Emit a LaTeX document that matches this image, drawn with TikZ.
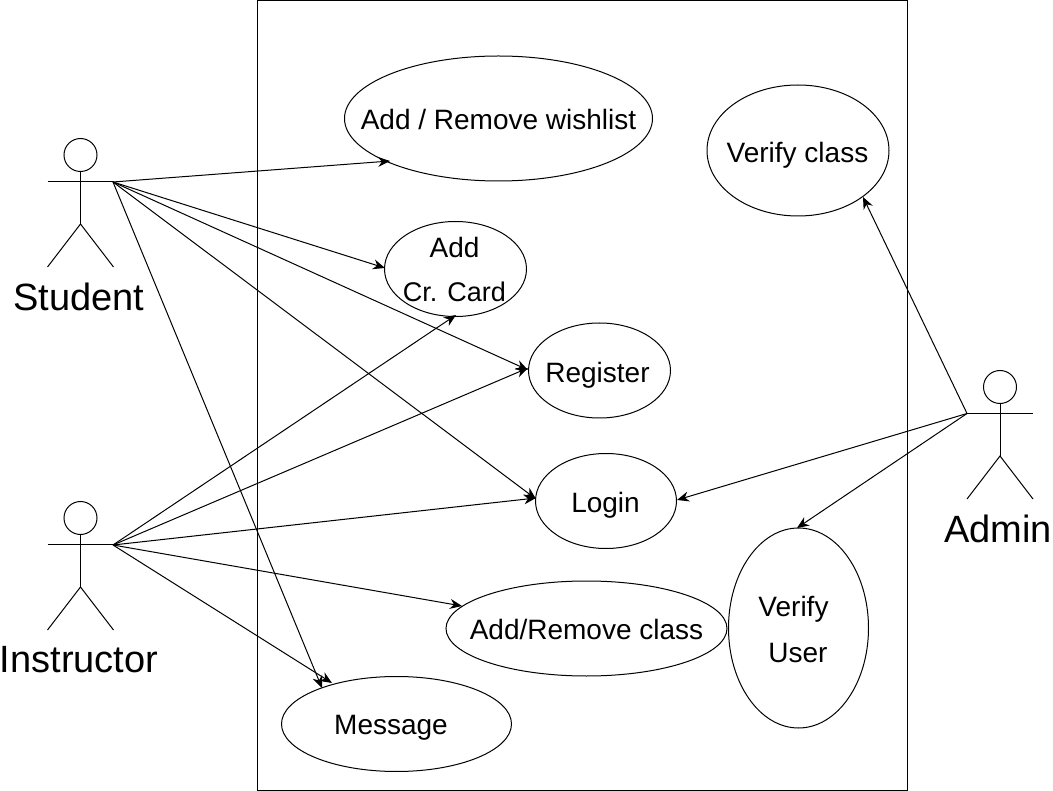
\documentclass[tikz,border=0pt]{standalone}
\usepackage{fontspec}
\setmainfont{Liberation Sans}
\usetikzlibrary{shapes.geometric,arrows.meta}
\tikzset{
 uc/.style={draw=black,ellipse,line width=1pt,inner sep=0pt,align=center},
 lab/.style={font=\fontsize{28}{32}\selectfont,inner sep=0pt},
 actorlab/.style={font=\fontsize{38}{42}\selectfont,inner sep=0pt},
 conn/.style={draw=black,line width=1pt,-{Stealth[length=12pt,width=10pt]}},
 fig/.style={draw=black,line width=1pt}
}
\newcommand{\actor}[2]{% x, y top
 \draw[fig] (#1,#2+17) circle[radius=16.5];
 \draw[fig] (#1,#2+33.5) -- (#1,#2+86);
 \draw[fig] (#1-33,#2+44) -- (#1+33,#2+44);
 \draw[fig] (#1-33,#2+129) -- (#1,#2+86) -- (#1+33,#2+129);
}
\begin{document}
\begin{tikzpicture}[x=1pt,y=-1pt]
\useasboundingbox (0,0) rectangle (1053,791);
\draw[fig] (257.5,0.5) rectangle (907.5,790.5);
\actor{80.5}{138}
\actor{80.5}{501}
\actor{1000}{370}
\coordinate (St) at (113,182);
\coordinate (In) at (113,545);
\coordinate (Ad) at (967,413.5);
\node[actorlab] (tS) at (79,297) {Student};
\node[actorlab] (tI) at (79,660) {Instructor};
\node[actorlab] (tA) at (998,529) {Admin};
\node[uc,minimum width=308pt,minimum height=125pt] (w) at (498.5,118.5) {};
\node[lab] (tw) at (498.5,119) {Add / Remove wishlist};
\node[uc,minimum width=142pt,minimum height=95pt] (c) at (455.5,269) {};
\node[lab] (tc1) at (454.5,247.5) {Add};
\node[lab,font=\fontsize{27}{32}\selectfont] (tc2) at (454.5,291.5) {Cr. Card};
\node[uc,minimum width=142pt,minimum height=95pt] (r) at (599.5,370.5) {};
\node[lab] (tr) at (597.5,375) {Register};
\node[uc,minimum width=141pt,minimum height=95pt] (l) at (606,501) {};
\node[lab] (tl) at (605.5,505) {Login};
\node[uc,minimum width=281pt,minimum height=95pt] (ar) at (586.5,628.5) {};
\node[lab] (tar) at (586.5,629.5) {Add/Remove class};
\node[uc,minimum width=140pt,minimum height=200pt] (vu) at (798.5,628) {};
\node[lab] (tv1) at (793.5,609) {Verify};
\node[lab] (tv2) at (798,653.5) {User};
\node[uc,minimum width=230pt,minimum height=95pt] (m) at (396.5,724) {};
\node[lab] (tm) at (391,728) {Message};
\node[uc,minimum width=182pt,minimum height=131pt] (v) at (798,150.5) {};
\node[lab] (tv) at (797.5,155) {Verify class};
\draw[conn] (St) -- (390,161);
\draw[conn] (St) -- (385,268);
\draw[conn] (St) -- (528,370);
\draw[conn] (St) -- (536,499);
\draw[conn] (St) -- (322,688);
\draw[conn] (In) -- (456,315);
\draw[conn] (In) -- (528,368);
\draw[conn] (In) -- (536,498);
\draw[conn] (In) -- (462,606);
\draw[conn] (In) -- (332,683);
\draw[conn] (Ad) -- (863,197);
\draw[conn] (Ad) -- (677,500);
\draw[conn] (Ad) -- (797,528);
\end{tikzpicture}
\end{document}
